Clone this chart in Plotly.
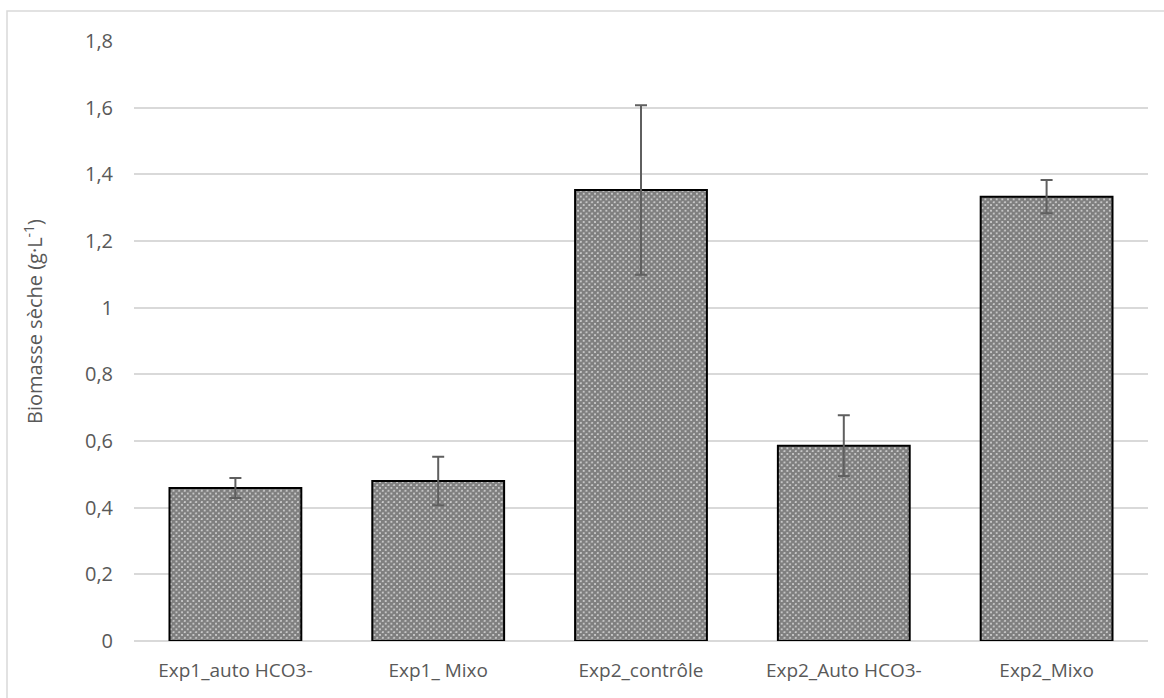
import plotly.graph_objects as go

# Dry biomass per culture condition (mean ± standard deviation)
categories = ["Exp1_auto HCO3-", "Exp1_ Mixo", "Exp2_contrôle", "Exp2_Auto HCO3-", "Exp2_Mixo"]
biomass = [0.459, 0.480, 1.353, 0.586, 1.333]
std_dev = [0.030, 0.073, 0.254, 0.091, 0.050]
y_ticks = [0, 0.2, 0.4, 0.6, 0.8, 1.0, 1.2, 1.4, 1.6, 1.8]

W, H = 1164, 698
L, R, T, B = 134, 16, 41, 57
pw, ph = W - L - R, H - T - B

text_color = "#595959"
grid_color = "#d9d9d9"
font_family = "Open Sans, Calibri, Carlito, sans-serif"
font_size = 19

fig = go.Figure(
    go.Bar(
        x=categories,
        y=biomass,
        width=0.65,
        marker=dict(
            color="white",
            line=dict(color="black", width=2),
            pattern=dict(shape="x", size=4, solidity=0.88, fgcolor="black", bgcolor="white"),
        ),
        error_y=dict(type="data", array=std_dev, visible=True, color="#5f5f5f", thickness=2, width=6),
        hoverinfo="skip",
    )
)

fig.update_layout(
    width=W,
    height=H,
    margin=dict(l=L, r=R, t=T, b=B),
    paper_bgcolor="white",
    plot_bgcolor="white",
    separators=", ",
    showlegend=False,
    font=dict(family=font_family, size=font_size, color=text_color),
    xaxis=dict(
        showgrid=False,
        showline=False,
        zeroline=False,
        ticks="",
        ticklabelstandoff=16,
        tickfont=dict(size=font_size, color=text_color),
    ),
    yaxis=dict(
        range=[0, 1.8],
        tickvals=y_ticks,
        showgrid=True,
        gridcolor=grid_color,
        gridwidth=1.5,
        zeroline=True,
        zerolinecolor=grid_color,
        zerolinewidth=1.5,
        showline=False,
        ticks="",
        ticklabelstandoff=20,
        tickfont=dict(size=20, color=text_color),
    ),
    annotations=[
        dict(
            text="Biomasse sèche (g·L<sup>-1</sup>)",
            x=(33 - L) / pw,
            y=(641 - 322) / ph,
            xref="paper",
            yref="paper",
            xanchor="center",
            yanchor="middle",
            textangle=-90,
            showarrow=False,
            font=dict(size=20, color=text_color, family=font_family),
        )
    ],
    shapes=[
        # light outer frame of the chart area
        dict(
            type="rect",
            xref="paper",
            yref="paper",
            x0=(7 - L) / pw,
            x1=(W + 10 - L) / pw,
            y0=-(H + 10 - T - ph) / ph,
            y1=1 + (T - 11) / ph,
            line=dict(color=grid_color, width=1.5),
            fillcolor="rgba(0,0,0,0)",
            layer="below",
        )
    ],
)

fig.write_html("out.html")
